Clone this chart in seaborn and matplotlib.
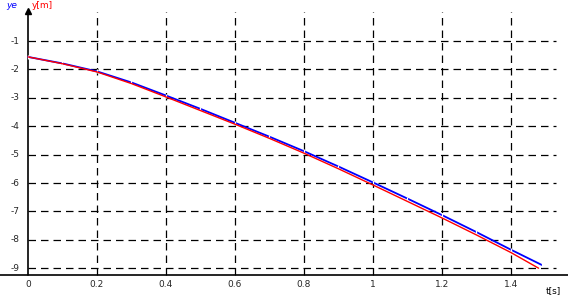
import matplotlib
matplotlib.use("Agg")
import matplotlib.pyplot as plt
import seaborn as sns
import pandas as pd

# data
t_red = [0.0, 0.1, 0.2, 0.3, 0.4, 0.5, 0.6, 0.7, 0.8, 0.9, 1.0, 1.1, 1.2, 1.3, 1.4, 1.48]
y_red = [-1.56, -1.80, -2.09, -2.50, -2.97, -3.45, -3.93, -4.43, -4.95, -5.50, -6.07, -6.65, -7.23, -7.83, -8.45, -9.00]
t_blue = [0.0, 0.1, 0.2, 0.3, 0.4, 0.5, 0.6, 0.7, 0.8, 0.9, 1.0, 1.1, 1.2, 1.3, 1.4, 1.49]
y_blue = [-1.56, -1.79, -2.07, -2.46, -2.92, -3.39, -3.88, -4.37, -4.88, -5.42, -5.98, -6.55, -7.13, -7.73, -8.35, -8.89]
x_ticks = [0, 0.2, 0.4, 0.6, 0.8, 1.0, 1.2, 1.4]
x_tick_labels = ["0", "0.2", "0.4", "0.6", "0.8", "1", "1.2", "1.4"]
y_ticks = [-1, -2, -3, -4, -5, -6, -7, -8, -9]
y_tick_labels = ["-1", "-2", "-3", "-4", "-5", "-6", "-7", "-8", "-9"]

sns.set_style("white")
plt.rcParams['font.family'] = ['DejaVu Sans']

fig = plt.figure(figsize=(5.68, 3.04), dpi=100)
ax = fig.add_axes([0, 0, 1, 1])
ax.set_xlim(-28 / 345, 540 / 345)
ax.set_ylim(-1 - 263 / 28.4, -1 + 41 / 28.4)
ax.axis("off")

y_axis = -9.24
x_end = 1.53
y_top = 0.02
dash = (0, (6, 4))
ax.hlines(y_ticks, 0, x_end, colors="black", linestyles=dash, linewidth=0.9)
ax.vlines(x_ticks[1:], y_axis, y_top, colors="black", linestyles=dash, linewidth=0.9)

# axes
ax.plot([-28 / 345, 1.58], [y_axis, y_axis], color="black", linewidth=1.2)
ax.plot([0, 0], [y_axis, 0.05], color="black", linewidth=1.2)
ax.plot([0], [0.05], marker="^", color="black", markersize=5)
ax.plot([1.58], [y_axis], marker=">", color="black", markersize=5)

for xv, lab in zip(x_ticks, x_tick_labels):
    ax.text(xv, -9.56, lab, ha="center", va="center", fontsize=6.5)
for yv, lab in zip(y_ticks, y_tick_labels):
    ax.text(-0.024, yv, lab, ha="right", va="center", fontsize=6.5)

df_b = pd.DataFrame({"t": t_blue, "y": y_blue})
df_r = pd.DataFrame({"t": t_red, "y": y_red})
sns.lineplot(data=df_b, x="t", y="y", ax=ax, color="#0000ff", linewidth=1.3,
             marker="|", markersize=3.5, markeredgewidth=0.9, legend=False)
sns.lineplot(data=df_r, x="t", y="y", ax=ax, color="#ff0000", linewidth=1.0, legend=False)
ax.axis("off")

ax.text(-16 / 345, 0.25, "ye", color="#0000ff", fontsize=6.5, style="italic", ha="center", va="center")
ax.text(14 / 345, 0.25, "y[m]", color="#ff0000", fontsize=6.5, ha="center", va="center")
ax.text(1.524, -9.8, "t[s]", color="black", fontsize=6.5, ha="center", va="center")

fig.savefig("out.png", dpi=100)
